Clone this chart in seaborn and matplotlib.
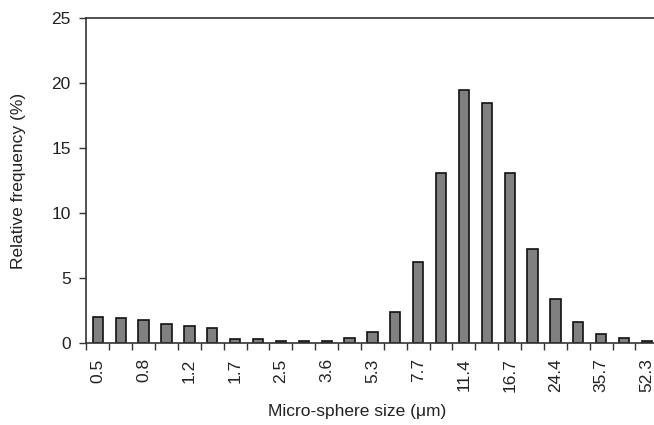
import numpy as np
import matplotlib
matplotlib.use('Agg')
import matplotlib.pyplot as plt
import seaborn as sns

# Data
sizes = ['0.5', '0.6', '0.8', '1.0', '1.2', '1.4', '1.7', '2.1', '2.5', '3.0',
         '3.6', '4.4', '5.3', '6.4', '7.7', '9.3', '11.4', '13.8', '16.7', '20.2',
         '24.4', '29.5', '35.7', '43.2', '52.3']
freq = [2.0, 1.9, 1.77, 1.5, 1.3, 1.15, 0.3, 0.3, 0.15, 0.15,
        0.15, 0.38, 0.82, 2.4, 6.25, 13.05, 19.5, 18.5, 13.05, 7.2,
        3.4, 1.6, 0.67, 0.36, 0.15]

sns.set_style('ticks')
plt.rcParams['font.family'] = ['Liberation Sans', 'DejaVu Sans']

W, H = 654, 425
fig = plt.figure(figsize=(W / 100, H / 100), dpi=100)
ax = fig.add_axes([86 / W, (H - 343) / H, (662 - 86) / W, (343 - 18) / H])

sns.barplot(x=sizes, y=freq, color='#808080', saturation=1, width=0.45,
            edgecolor='#111111', linewidth=1.2, ax=ax)

ax.set_ylim(0, 25)
ax.set_xlim(-0.52, 24.66)
ax.set_yticks(np.arange(0, 26, 5))

# labels on every other bar, tick marks between bars
ax.set_xticks(range(0, len(sizes), 2))
ax.set_xticklabels(sizes[::2], rotation=90)
ax.set_xticks(np.arange(-0.5, len(sizes), 1), minor=True)
ax.tick_params(axis='x', which='major', length=0, pad=11, labelsize=12.5, colors='#222222')
ax.tick_params(axis='x', which='minor', length=5, width=1, color='#333333', direction='out')
ax.tick_params(axis='y', length=5, width=1, pad=6, color='#333333', labelsize=12.5,
               labelcolor='#222222')

for s in ax.spines.values():
    s.set_visible(True)
    s.set_color('#333333')
    s.set_linewidth(1.2)

ax.set_xlabel('Micro-sphere size (μm)', fontsize=12.5, color='#222222', va='center')
ax.set_ylabel('Relative frequency (%)', fontsize=12.5, color='#222222', va='center')
ax.xaxis.set_label_coords(0.471, -0.212)
ax.yaxis.set_label_coords(-0.118, 0.5)

fig.savefig('out.png', dpi=100)
